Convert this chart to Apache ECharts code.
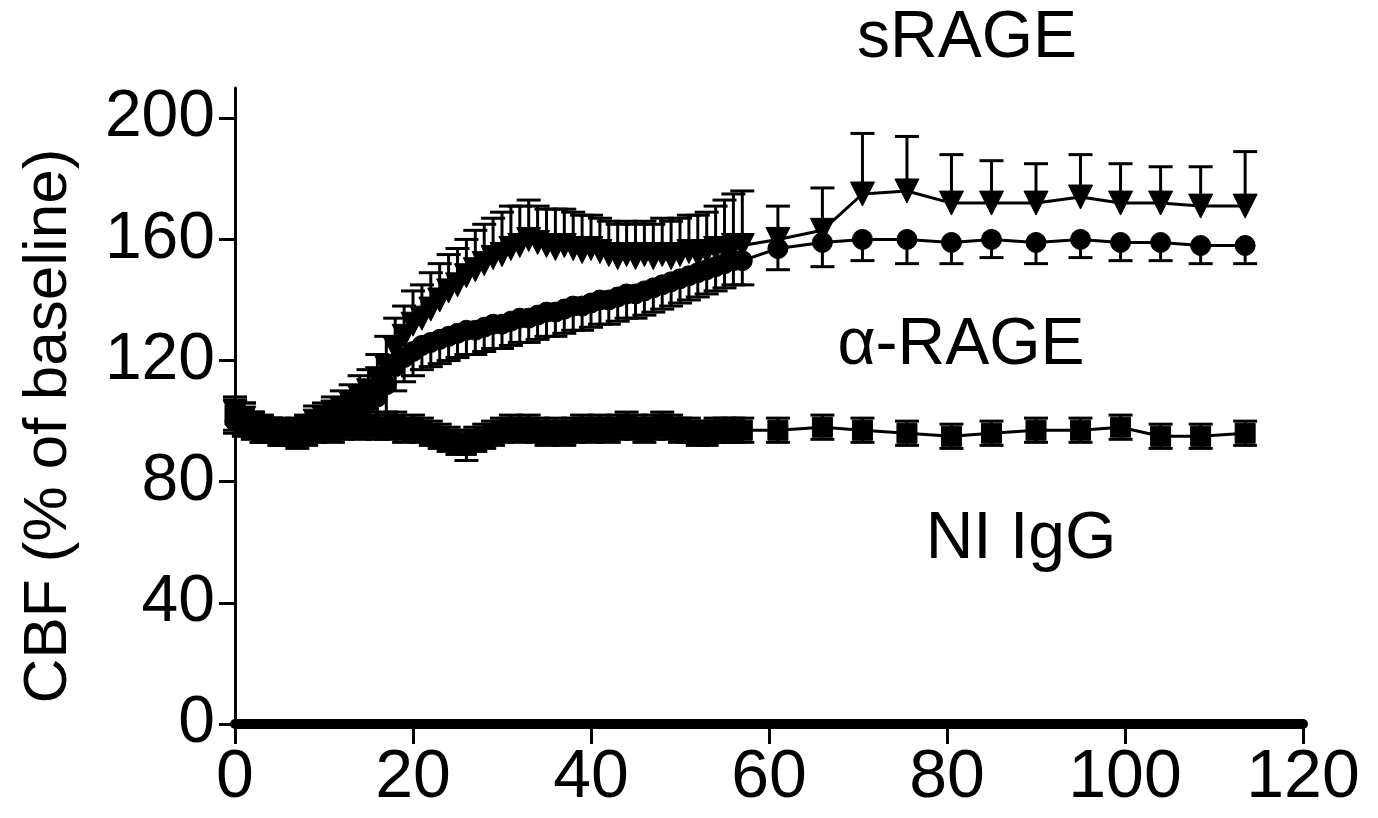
<!DOCTYPE html>
<html lang="en">
<head>
    <meta charset="UTF-8">
    <title>CBF</title>
    <style type="text/css">
        html, body { margin: 0; padding: 0; background: #fff; }
        #cbf { width: 1378px; height: 818px; }
    </style>
    <script src="https://cdn.jsdelivr.net/npm/echarts@6/dist/echarts.min.js"></script>
</head>
<body>
<div id="cbf"></div>
<script type="application/javascript">
    // time (min), dense sampling first, then every ~5 min
    var minutes = [0, 1, 2, 3, 4, 5, 6, 7, 8, 9, 10, 11, 12, 13, 14, 15, 16, 17, 18, 19,
        20, 21, 22, 23, 24, 25, 26, 27, 28, 29, 30, 31, 32, 33, 34, 35, 36, 37, 38, 39,
        40, 41, 42, 43, 44, 45, 46, 47, 48, 49, 50, 51, 52, 53, 54, 55, 56, 57,
        61, 66, 70.5, 75.5, 80.5, 85, 90, 95, 99.5, 104, 108.5, 113.5];

    var sRageMean = [103, 101, 99, 98, 97, 97, 96, 97, 98, 100, 101, 103, 104, 106, 108, 110, 114, 118, 124, 128,
        132, 134, 137, 140, 143, 145, 148, 150, 152, 154, 155, 157, 158, 160, 159, 158, 157, 158, 157, 156,
        157, 156, 155, 154, 155, 154, 155, 154, 155, 154, 155, 156, 155, 156, 157, 157, 158, 158,
        160, 163, 175, 176, 172, 172, 172, 174, 172, 172, 171, 171];
    var sRageErr = [5, 5, 4, 4, 4, 4, 4, 4, 4, 5, 5, 5, 6, 6, 7, 7, 8, 10, 10, 10,
        11, 11, 12, 12, 12, 12, 12, 13, 13, 13, 14, 14, 13, 13, 12, 12, 13, 12, 12, 12,
        11, 11, 11, 11, 11, 11, 11, 11, 12, 12, 12, 12, 13, 13, 14, 16, 17, 18,
        11, 14, 20, 18, 16, 14, 13, 14, 13, 12, 13, 18];

    var aRageMean = [100, 99, 98, 97, 97, 96, 97, 97, 98, 99, 100, 101, 102, 103, 104, 106, 108, 112, 118, 121,
        123, 125, 126, 127, 128, 129, 130, 130, 131, 132, 132, 133, 134, 134, 135, 136, 136, 137, 138, 138,
        139, 140, 140, 141, 142, 142, 143, 144, 145, 146, 147, 148, 149, 150, 151, 152, 153, 153,
        157, 159, 160, 160, 159, 160, 159, 160, 159, 159, 158, 158];
    var aRageErr = [4, 4, 4, 4, 4, 4, 4, 4, 4, 4, 5, 5, 5, 6, 6, 7, 8, 9, 8, 8,
        8, 8, 8, 8, 8, 8, 8, 8, 8, 8, 8, 8, 8, 8, 8, 8, 8, 8, 8, 8,
        8, 8, 8, 8, 8, 8, 8, 8, 8, 8, 8, 8, 8, 8, 8, 8, 8, 8,
        7, 8, 7, 8, 7, 6, 7, 6, 6, 6, 6, 6];

    var iggMean = [102, 101, 99, 97, 97, 96, 96, 95, 96, 97, 98, 97, 98, 99, 98, 99, 98, 98, 99, 97,
        98, 97, 96, 95, 94, 93, 92, 94, 95, 96, 97, 98, 97, 98, 97, 96, 97, 96, 97, 98,
        97, 98, 97, 98, 99, 98, 97, 98, 99, 98, 97, 97, 96, 96, 97, 97, 97, 97,
        97, 98, 97, 96, 95, 96, 97, 97, 98, 95, 95, 96];
    var iggErr = [5, 5, 4, 4, 4, 4, 4, 4, 4, 4, 4, 4, 4, 4, 4, 4, 4, 4, 4, 4,
        4, 4, 4, 4, 4, 4, 5, 4, 4, 4, 4, 4, 4, 4, 4, 4, 4, 4, 4, 4,
        4, 4, 4, 4, 4, 4, 4, 4, 4, 4, 4, 4, 4, 4, 4, 4, 4, 4,
        4, 4, 4, 4, 4, 4, 4, 4, 4, 4, 4, 4];

    var yTicks = [0, 40, 80, 120, 160, 200];
    var fontFamily = '"Liberation Sans", Arial, sans-serif';

    function pairs(mean) {
        var out = [];
        for (var i = 0; i < minutes.length; i++) {
            out.push([minutes[i], mean[i]]);
        }
        return out;
    }

    // dir: 1 = above only, -1 = below only, 0 = both
    function bars(mean, err, dir) {
        var out = [];
        for (var i = 0; i < minutes.length; i++) {
            var lo = dir > 0 ? mean[i] : mean[i] - err[i];
            var hi = dir < 0 ? mean[i] : mean[i] + err[i];
            out.push([minutes[i], lo, hi]);
        }
        return out;
    }

    function errorSeries(name, data, dir) {
        return {
            name: name,
            type: 'custom',
            silent: true,
            z: 3,
            renderItem: function (params, api) {
                var lo = api.coord([api.value(0), api.value(1)]);
                var hi = api.coord([api.value(0), api.value(2)]);
                var w = 12;
                var style = {stroke: '#000', lineWidth: 3};
                var kids = [{
                    type: 'line',
                    shape: {x1: lo[0], y1: lo[1], x2: hi[0], y2: hi[1]},
                    style: style
                }];
                if (dir >= 0) {
                    kids.push({type: 'line', shape: {x1: hi[0] - w, y1: hi[1], x2: hi[0] + w, y2: hi[1]}, style: style});
                }
                if (dir <= 0) {
                    kids.push({type: 'line', shape: {x1: lo[0] - w, y1: lo[1], x2: lo[0] + w, y2: lo[1]}, style: style});
                }
                return {type: 'group', children: kids};
            },
            encode: {x: 0, y: [1, 2]},
            data: data
        };
    }

    function lineSeries(name, mean, symbol, size, rotate) {
        return {
            name: name,
            type: 'line',
            z: 4,
            symbol: symbol,
            symbolSize: size,
            symbolRotate: rotate || 0,
            showAllSymbol: true,
            lineStyle: {color: '#000', width: 3},
            itemStyle: {color: '#000', borderColor: '#000'},
            data: pairs(mean)
        };
    }

    var chart = echarts.init(document.getElementById('cbf'));
    var option = {
        backgroundColor: '#fff',
        animation: false,
        grid: {left: 235, right: 75, top: 88, bottom: 94},
        xAxis: {
            type: 'value',
            min: 0,
            max: 120,
            interval: 20,
            splitLine: {show: false},
            axisLine: {lineStyle: {color: '#000', width: 10}},
            axisTick: {length: 20, lineStyle: {color: '#000', width: 3}},
            axisLabel: {color: '#000', fontSize: 68, fontFamily: fontFamily, margin: 20}
        },
        yAxis: {
            type: 'value',
            min: 0,
            max: 210,
            splitLine: {show: false},
            name: 'CBF (% of baseline)',
            nameLocation: 'middle',
            nameGap: 155,
            nameTextStyle: {color: '#000', fontSize: 62, fontFamily: fontFamily, padding: [0, 40, 0, 0]},
            axisLine: {lineStyle: {color: '#000', width: 3}},
            axisTick: {length: 16, customValues: yTicks, lineStyle: {color: '#000', width: 3}},
            axisLabel: {color: '#000', fontSize: 66, fontFamily: fontFamily, margin: 20, customValues: yTicks}
        },
        graphic: [
            {type: 'text', x: 967, y: 39, style: {text: 'sRAGE', fill: '#000', font: '66px ' + fontFamily, align: 'center', verticalAlign: 'middle'}},
            {type: 'text', x: 961, y: 346, style: {text: 'α-RAGE', fill: '#000', font: '66px ' + fontFamily, align: 'center', verticalAlign: 'middle'}},
            {type: 'text', x: 1021, y: 540, style: {text: 'NI IgG', fill: '#000', font: '66px ' + fontFamily, align: 'center', verticalAlign: 'middle'}}
        ],
        series: [
            errorSeries('NI IgG err', bars(iggMean, iggErr, 0), 0),
            lineSeries('NI IgG', iggMean, 'rect', 20),
            errorSeries('α-RAGE err', bars(aRageMean, aRageErr, -1), -1),
            lineSeries('α-RAGE', aRageMean, 'circle', 20),
            errorSeries('sRAGE err', bars(sRageMean, sRageErr, 1), 1),
            lineSeries('sRAGE', sRageMean, 'triangle', 24, 180)
        ]
    };
    chart.setOption(option);
</script>
</body>
</html>
